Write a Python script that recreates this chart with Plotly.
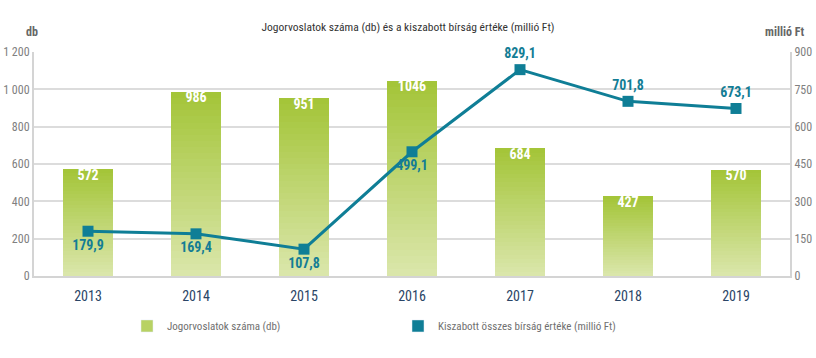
import plotly.graph_objects as go

years = ["2013", "2014", "2015", "2016", "2017", "2018", "2019"]
appeals = [572, 986, 951, 1046, 684, 427, 570]
fines = [179.9, 169.4, 107.8, 499.1, 829.1, 701.8, 673.1]
left_ticks = [0, 200, 400, 600, 800, 1000, 1200]
left_labels = ["0", "200", "400", "600", "800", "1 000", "1 200"]
right_ticks = [0, 150, 300, 450, 600, 750, 900]
fine_pos = ["bottom center"] * 4 + ["top center"] * 3

FONT = "Roboto Condensed, Lato, sans-serif"
top_c = (164, 197, 57)
bot_c = (218, 230, 170)
N = 30
TEAL = "#0f7e96"

fig = go.Figure()
for k in range(N):
    t = k / (N - 1)
    c = tuple(round(bot_c[i] + (top_c[i] - bot_c[i]) * t) for i in range(3))
    fig.add_trace(go.Bar(
        x=years, y=[v / N for v in appeals],
        marker=dict(color="rgb(%d,%d,%d)" % c, line=dict(width=0)),
        width=0.455, showlegend=False, hoverinfo="skip",
    ))

# bar value labels
fig.add_trace(go.Scatter(
    x=years, y=appeals, mode="text", text=[str(v) for v in appeals],
    textposition="bottom center", showlegend=False, hoverinfo="skip",
    textfont=dict(color="white", size=14, family=FONT, weight="bold"),
))

# legend proxies (square symbols)
fig.add_trace(go.Bar(
    x=[None], y=[None], name="Jogorvoslatok száma (db)",
    marker=dict(color="rgb(184,210,100)"), showlegend=True,
))
fig.add_trace(go.Bar(
    x=[None], y=[None], name="Kiszabott összes bírság értéke (millió Ft)",
    marker=dict(color=TEAL), showlegend=True,
))

fig.add_trace(go.Scatter(
    x=years, y=fines, yaxis="y2", mode="lines+markers+text",
    showlegend=False,
    line=dict(color=TEAL, width=3),
    marker=dict(symbol="square", size=11, color=TEAL),
    text=[("%.1f" % v).replace(".", ",") for v in fines],
    textposition=fine_pos,
    textfont=dict(color="#137d95", size=14, family=FONT, weight="bold"),
    cliponaxis=False,
))

fig.update_layout(
    width=816, height=358,
    margin=dict(l=34, r=26, t=52, b=82),
    barmode="stack", bargap=0,
    paper_bgcolor="white", plot_bgcolor="white",
    font=dict(family=FONT, color="#555555", size=12),
    title=dict(text="Jogorvoslatok száma (db) és a kiszabott bírság értéke (millió Ft)",
               x=0.5, xanchor="center", y=0.925, yanchor="middle",
               font=dict(size=11.5, color="#333333", family=FONT)),
    xaxis=dict(type="category", range=[-0.5, 6.5], showgrid=False, automargin=False,
               showline=True, linecolor="#d4d4d4", linewidth=2, mirror=False,
               ticks="", ticklabelstandoff=6,
               tickfont=dict(size=14, color="#2a4566", family=FONT)),
    yaxis=dict(range=[0, 1200], tickvals=left_ticks, ticktext=left_labels,
               automargin=False,
               showgrid=True, gridcolor="#dcdcdc", gridwidth=1.5,
               showline=True, linecolor="#d4d4d4", linewidth=2,
               zeroline=False, ticks="",
               tickfont=dict(size=12, color="#808080", family=FONT)),
    yaxis2=dict(range=[0, 900], tickvals=right_ticks, overlaying="y", side="right",
                automargin=False,
                showgrid=False, showline=True, linecolor="#d4d4d4", linewidth=2,
                zeroline=False, ticks="",
                tickfont=dict(size=12, color="#808080", family=FONT)),
    legend=dict(orientation="h", x=(127 - 34) / 756, y=-0.223, xanchor="left", yanchor="middle",
                font=dict(size=11, color="#707070", family=FONT),
                entrywidth=226, entrywidthmode="pixels", traceorder="normal",
                bgcolor="rgba(0,0,0,0)"),
    showlegend=True,
)

fig.add_annotation(text="<b>db</b>", xref="paper", yref="paper", x=-0.002, y=1.089,
                   xanchor="center", yanchor="middle", showarrow=False,
                   font=dict(size=12, color="#666666", family=FONT))
fig.add_annotation(text="<b>millió Ft</b>", xref="paper", yref="paper", x=1.021, y=1.089,
                   xanchor="right", yanchor="middle", showarrow=False,
                   font=dict(size=12, color="#666666", family=FONT))

fig.write_html("out.html", config={"displayModeBar": False},
               post_script="document.body.style.margin='0';document.body.style.overflow='hidden';")
